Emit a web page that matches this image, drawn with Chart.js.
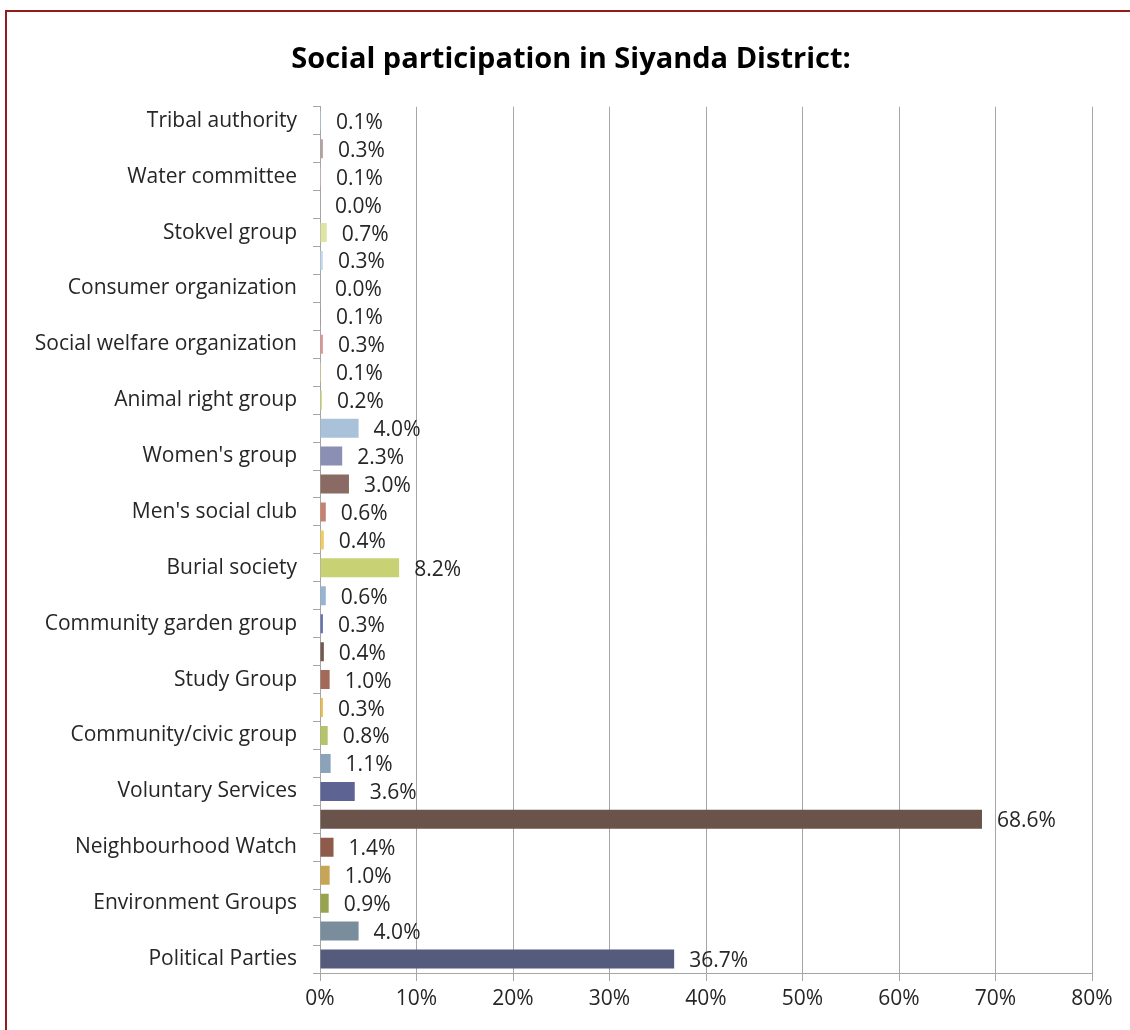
<!DOCTYPE html>
<html>
<head>
<meta charset="utf-8">
<title>Social participation in Siyanda District</title>
<script src="https://cdn.jsdelivr.net/npm/chart.js@4.4.0/dist/chart.umd.min.js"></script>
<style>
    html, body {
        margin: 0;
        padding: 0;
        background: #ffffff;
        overflow: hidden;
    }
    #wrap {
        position: relative;
        width: 1130px;
        height: 1030px;
    }
    #frame {
        position: absolute;
        left: 5px;
        top: 10px;
        width: 1200px;
        height: 1100px;
        border-left: 2px solid #941c1c;
        border-top: 2px solid #941c1c;
        pointer-events: none;
    }
</style>
</head>
<body>
<div id="wrap">
    <canvas id="participationChart" width="1130" height="1030"></canvas>
    <div id="frame"></div>
</div>
<script>
'use strict';

// Rows top to bottom; every other group label is left blank on the axis
const categories = [
    'Tribal authority', '', 'Water committee', '', 'Stokvel group', '',
    'Consumer organization', '', 'Social welfare organization', '',
    'Animal right group', '', "Women's group", '', "Men's social club", '',
    'Burial society', '', 'Community garden group', '', 'Study Group', '',
    'Community/civic group', '', 'Voluntary Services', '',
    'Neighbourhood Watch', '', 'Environment Groups', '', 'Political Parties'
];

const participation = [
    0.1, 0.3, 0.1, 0.0, 0.7, 0.3,
    0.0, 0.1, 0.3, 0.1,
    0.2, 4.0, 2.3, 3.0, 0.6, 0.4,
    8.2, 0.6, 0.3, 0.4, 1.0, 0.3,
    0.8, 1.1, 3.6, 68.6,
    1.4, 1.0, 0.9, 4.0, 36.7
];

const barColors = [
    '#b9cde5', '#b3a2a0', '#e6b9b8', '#fcd5a5', '#dde5a5', '#c6d9f1',
    '#95a3c9', '#a89490', '#d99694', '#f9d77e',
    '#d0dc8a', '#a9c2da', '#8c8fb4', '#8a6a62', '#c58270', '#f0cc66',
    '#c8d275', '#98b4d0', '#6570ae', '#735950', '#a36a5a', '#e8bc50',
    '#b7c36a', '#8aa2ba', '#5d6494', '#6a534a',
    '#8e5a4a', '#c6a555', '#98a34e', '#7a8d9c', '#545b7d'
];

const xTicks = [0, 10, 20, 30, 40, 50, 60, 70, 80];

const FONT = '"Open Sans", Lato, sans-serif';
const TEXT_SIZE = 21;
const AXIS_GREY = '#a6a6a6';

// value labels to the right of each bar end
const valueLabels = {
    id: 'valueLabels',
    afterDatasetsDraw(chart) {
        const ctx = chart.ctx;
        const meta = chart.getDatasetMeta(0);
        ctx.save();
        ctx.font = TEXT_SIZE + 'px ' + FONT;
        ctx.fillStyle = '#262626';
        ctx.textAlign = 'left';
        ctx.textBaseline = 'middle';
        meta.data.forEach((bar, i) => {
            const v = chart.data.datasets[0].data[i];
            ctx.fillText(v.toFixed(1) + '%', bar.x + 15, bar.y + 2);
        });
        ctx.restore();
    }
};

new Chart(document.getElementById('participationChart'), {
    type: 'bar',
    data: {
        labels: categories,
        datasets: [{
            data: participation,
            backgroundColor: barColors,
            borderWidth: 0,
            categoryPercentage: 1,
            barPercentage: 0.68
        }]
    },
    options: {
        indexAxis: 'y',
        responsive: false,
        animation: false,
        layout: {
            padding: { left: 12, right: 0, top: 0, bottom: 0 }
        },
        plugins: {
            legend: { display: false },
            tooltip: { enabled: false },
            title: {
                display: true,
                text: 'Social participation in Siyanda District:',
                color: '#000000',
                font: { family: FONT, size: 29, weight: 'bold' },
                padding: { top: 42, bottom: 30 }
            }
        },
        scales: {
            x: {
                min: 0,
                max: 80,
                afterBuildTicks: (scale) => {
                    scale.ticks = xTicks.map(v => ({ value: v }));
                },
                afterFit: (scale) => { scale.height = 57; },
                grid: {
                    color: AXIS_GREY,
                    lineWidth: 1,
                    tickLength: 8
                },
                border: { color: AXIS_GREY },
                ticks: {
                    color: '#262626',
                    font: { family: FONT, size: TEXT_SIZE },
                    padding: 5,
                    callback: (v) => v + '%'
                }
            },
            y: {
                afterFit: (scale) => { scale.width = 308; },
                grid: {
                    offset: true,
                    drawOnChartArea: false,
                    color: AXIS_GREY,
                    tickLength: 7
                },
                border: { color: AXIS_GREY },
                ticks: {
                    autoSkip: false,
                    color: '#262626',
                    font: { family: FONT, size: TEXT_SIZE },
                    padding: 16
                }
            },
            // empty right-hand strip so the plot ends short of the canvas edge
            yRight: {
                axis: 'y',
                type: 'category',
                position: 'right',
                afterFit: (scale) => { scale.width = 38; },
                grid: { display: false },
                border: { display: false },
                ticks: { display: false }
            }
        }
    },
    plugins: [valueLabels]
});
</script>
</body>
</html>
